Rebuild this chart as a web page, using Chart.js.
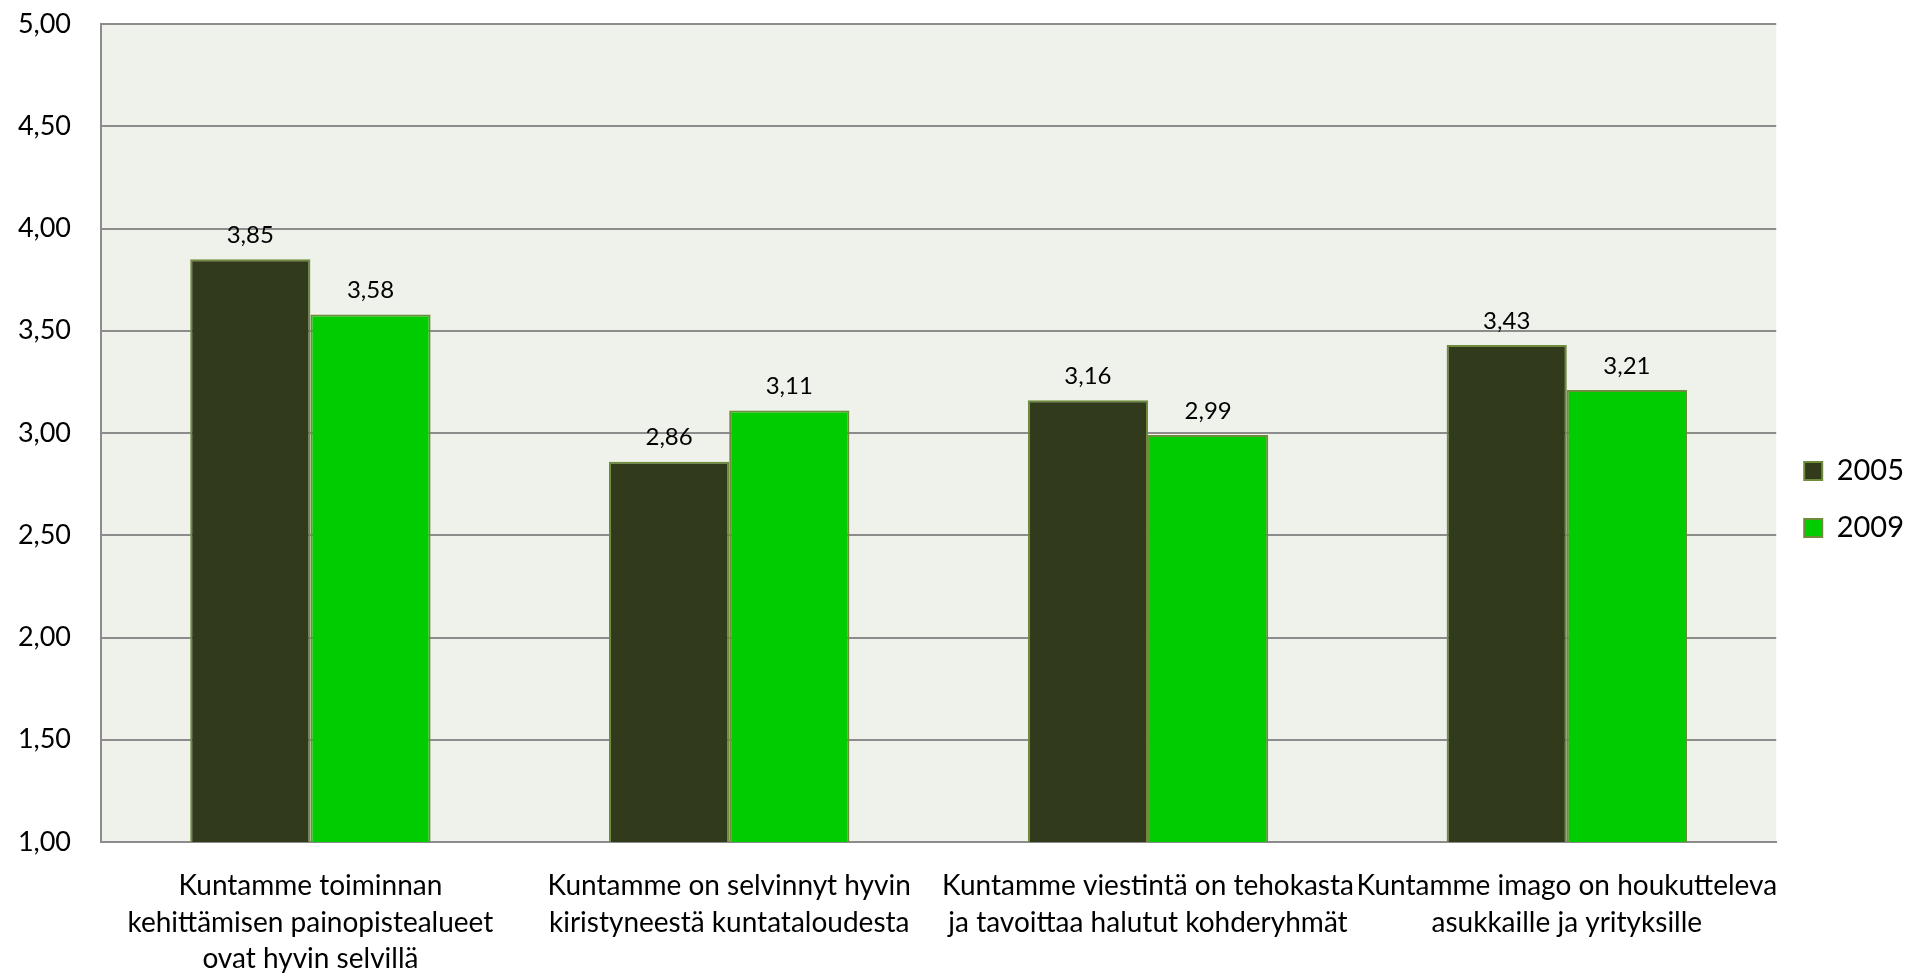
<!DOCTYPE html>
<html>
<head>
<meta charset="utf-8">
<script src="https://cdn.jsdelivr.net/npm/chart.js@4"></script>
<style>
  body { margin: 0; background: #ffffff; }
  #wrap { width: 1914px; height: 975px; }
</style>
</head>
<body>
<div id="wrap"><canvas id="myChart"></canvas></div>
<script>
const kategoriat = [
    ["Kuntamme toiminnan", "kehittämisen painopistealueet", "ovat hyvin selvillä"],
    ["Kuntamme on selvinnyt hyvin", "kiristyneestä kuntataloudesta"],
    ["Kuntamme viestintä on tehokasta", "ja tavoittaa halutut kohderyhmät"],
    ["Kuntamme imago on houkutteleva", "asukkaille ja yrityksille"]
];
const arvot2005 = [3.85, 2.86, 3.16, 3.43];
const arvot2009 = [3.58, 3.11, 2.99, 3.21];
const akselinMin = 1;
const akselinMax = 5;
const akselinVali = 0.5;

const fontti = "Lato, 'Open Sans', sans-serif";
const muotoile = (v) => v.toFixed(2).replace(".", ",");

const taustaPlugin = {
    id: "tausta",
    beforeDraw(chart) {
        const { ctx, chartArea } = chart;
        ctx.save();
        ctx.fillStyle = "#eff2ea";
        ctx.fillRect(chartArea.left, chartArea.top, chartArea.right - chartArea.left, chartArea.bottom - chartArea.top);
        ctx.restore();
    }
};

const arvoPlugin = {
    id: "arvot",
    afterDatasetsDraw(chart) {
        const ctx = chart.ctx;
        ctx.save();
        ctx.font = "24px " + fontti;
        ctx.fillStyle = "#000000";
        ctx.textAlign = "center";
        ctx.textBaseline = "bottom";
        chart.data.datasets.forEach((ds, i) => {
            chart.getDatasetMeta(i).data.forEach((bar, j) => {
                ctx.fillText(muotoile(ds.data[j]), bar.x, bar.y - 12);
            });
        });
        ctx.restore();
    }
};

const grapharea = document.getElementById("myChart").getContext("2d");

const data = {
    labels: kategoriat,
    datasets: [
        {
            label: "2005",
            data: arvot2005,
            backgroundColor: "#313a1a",
            borderColor: "#6e8c3c",
            borderWidth: 2,
        },
        {
            label: "2009",
            data: arvot2009,
            backgroundColor: "#00cc00",
            borderColor: "#6e8c3c",
            borderWidth: 2,
        },
    ],
};

const config = {
    type: "bar",
    data: data,
    options: {
        responsive: true,
        maintainAspectRatio: false,
        animation: false,
        layout: { padding: { top: 24, left: 15, right: 0, bottom: 0 } },
        datasets: {
            bar: { categoryPercentage: 0.574, barPercentage: 1 }
        },
        plugins: {
            legend: {
                position: "right",
                labels: {
                    font: { family: fontti, size: 29 },
                    color: "#000000",
                    boxWidth: 18,
                    boxHeight: 18,
                    padding: 28,
                },
            },
            tooltip: { enabled: false },
        },
        scales: {
            x: {
                grid: { display: false },
                border: { color: "#8c8c8c", width: 2 },
                afterFit: (scale) => { scale.height = 133; },
                ticks: {
                    font: { family: fontti, size: 28, lineHeight: 1.3 },
                    color: "#000000",
                    padding: 18,
                    maxRotation: 0,
                    autoSkip: false,
                },
            },
            y: {
                min: akselinMin,
                max: akselinMax,
                grid: { color: "#8c8c8c", lineWidth: 2, drawTicks: false },
                border: { color: "#8c8c8c", width: 2 },
                afterFit: (scale) => {
                    scale.width = 86;
                    scale.paddingTop = 0;
                    scale.paddingBottom = 0;
                },
                ticks: {
                    stepSize: akselinVali,
                    font: { family: fontti, size: 27 },
                    color: "#000000",
                    padding: 30,
                    callback: (v) => muotoile(v),
                },
            },
        },
    },
    plugins: [taustaPlugin, arvoPlugin],
};

const myChart = new Chart(grapharea, config);
</script>
</body>
</html>
